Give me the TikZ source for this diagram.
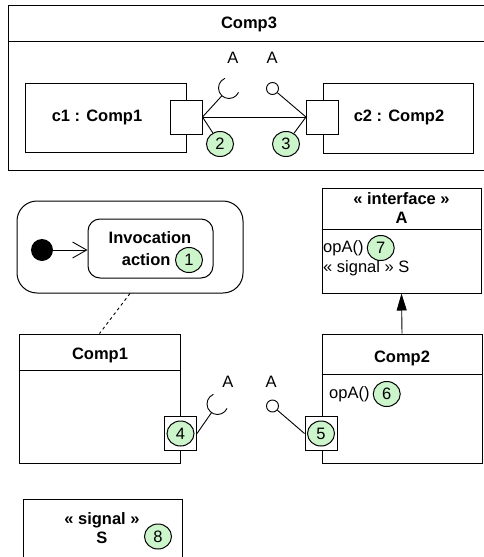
\documentclass[tikz,border=0pt]{standalone}
\usepackage{fontspec}
\setmainfont{Liberation Sans}
\usepackage{xcolor}
\usepackage{tikz}
\usetikzlibrary{arrows.meta,positioning,shapes.geometric}
\definecolor{notegreen}{RGB}{204,245,204}

\begin{document}
\begin{tikzpicture}[
  x=1pt, y=1pt,
  font=\fontsize{16.5}{19}\selectfont,
  box/.style={draw, line width=1pt, inner sep=0pt},
  port/.style={draw, line width=1pt, fill=white, inner sep=0pt,
    minimum width=32pt, minimum height=34pt},
  num/.style={draw, line width=1pt, ellipse, fill=notegreen, inner sep=0pt,
    minimum width=27pt, minimum height=25pt},
  ball/.style={draw, line width=0.9pt, circle, inner sep=0pt, minimum size=12pt},
  title/.style={font=\fontsize{16.5}{19}\selectfont\bfseries, align=center},
  wire/.style={line width=0.9pt}
]
\useasboundingbox (0,0) rectangle (484,-557);

% composite Comp3
\node[box, minimum width=482pt, minimum height=165pt] (comp3) at (249,-88) {};
\draw[line width=1pt] ([yshift=-36pt]comp3.north west) -- ([yshift=-36pt]comp3.north east);
\node[title] (comp3name) at (249,-24) {Comp3};

\node[box, minimum width=161pt, minimum height=69pt] (c1) at (105.5,-117.5) {};
\node[title] (c1name) at (97,-117) {c1 : Comp1};
\node[box, minimum width=150pt, minimum height=70pt] (c2) at (398,-118) {};
\node[title] (c2name) at (399,-117) {c2 : Comp2};
\node[port] (p2) at (186,-117) {};
\node[port] (p3) at (322.5,-117) {};

\draw[wire] (p2.east) -- (p3.west);
\coordinate (sock1) at (229,-88);
\draw[wire, shorten >=10.5pt] (p2.east) -- (sock1);
\draw[wire] (sock1) ++(113:10.5pt) arc[start angle=113, end angle=335, radius=10.5pt];
\node[ball] (ball1) at (272.5,-88.5) {};
\draw[wire] (ball1) -- (p3.west);
\node (a1) at (233,-58) {A};
\node (a2) at (272,-58) {A};
\node[num] (n2) at (220,-144) {2};
\node[num] (n3) at (286,-144) {3};
\draw[wire] (p2.east) -- (n2);
\draw[wire] (p3.west) -- (n3);

% state machine
\node[box, rounded corners=20pt, minimum width=226pt, minimum height=92pt] (sm) at (130,-247) {};
\node[box, rounded corners=12pt, minimum width=125pt, minimum height=59pt] (act) at (150.5,-248.5) {};
\node[title] (actname1) at (150,-238) {Invocation};
\node[num] (n1) at (189,-260) {1};
\node[title, left=1pt of n1] (actname2) {action};
\node[circle, fill, inner sep=0pt, minimum size=22pt] (init) at (42,-250) {};
\draw[wire, -{Straight Barb[length=14pt,width=16pt]}] (init) -- (init -| act.west);

% Comp1
\node[box, minimum width=161pt, minimum height=129pt] (comp1) at (99.5,-398.5) {};
\draw[line width=1pt] ([yshift=-37pt]comp1.north west) -- ([yshift=-37pt]comp1.north east);
\node[title] (comp1name) at (100,-355) {Comp1};
\draw[wire, dashed] (sm.south) -- (comp1.north);
\node[port] (p4) at (180.5,-433.5) {};
\node[num] (n4) at (p4) {4};

% Comp2
\node[box, minimum width=160pt, minimum height=129pt] (comp2) at (402,-398.5) {};
\draw[line width=1pt] ([yshift=-41pt]comp2.north west) -- ([yshift=-41pt]comp2.north east);
\node[title] (comp2name) at (402,-358) {Comp2};
\node[anchor=west, inner sep=0pt] (opa2) at (329,-394) {opA()};
\node[num, right=3pt of opa2] (n6) {6};
\node[port] (p5) at (321,-433.5) {};
\node[num] (n5) at (p5) {5};

\coordinate (sock2) at (217.5,-404);
\draw[wire, shorten >=10.5pt] (p4.east) -- (sock2);
\draw[wire] (sock2) ++(113:10.5pt) arc[start angle=113, end angle=335, radius=10.5pt];
\node[ball] (ball2) at (272.5,-406) {};
\draw[wire] (ball2) -- (p5.west);
\node (a3) at (228,-382) {A};
\node (a4) at (271,-382) {A};

% interface A
\node[box, minimum width=159pt, minimum height=105pt] (iface) at (401.5,-240.5) {};
\draw[line width=1pt] ([yshift=-42pt]iface.north west) -- ([yshift=-42pt]iface.north east);
\node[title] (ifacename) at (401.5,-208) {« interface »\\A};
\node[anchor=west, inner sep=0pt] (opa1) at (323,-248) {opA()};
\node[num, right=3pt of opa1] (n7) {7};
\node[anchor=west, inner sep=0pt] (sig1) at (323,-268) {« signal » S};
\draw[wire, -{Triangle[length=17pt,width=10pt]}] (comp2.north) -- (iface.south);

% signal S
\node[box, minimum width=159pt, minimum height=71pt] (sigS) at (102.5,-534.5) {};
\node[title] (signame) at (102,-528) {« signal »\\S};
\node[num] (n8) at (158,-536.5) {8};
\end{tikzpicture}
\end{document}
